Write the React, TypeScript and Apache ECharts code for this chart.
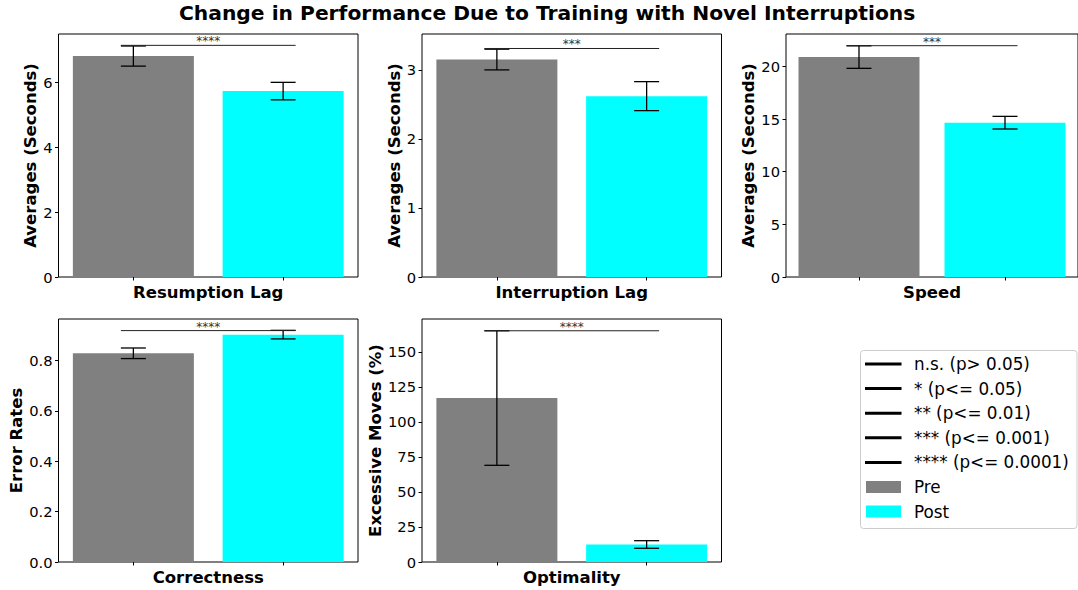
import React, { useEffect, useRef } from "react";
import * as echarts from "echarts";

const TITLE = "Change in Performance Due to Training with Novel Interruptions";
const GROUPS = ["Pre", "Post"];
const GROUP_COLORS = ["#808080", "#00ffff"];

const panelNames = ["Resumption Lag", "Interruption Lag", "Speed", "Correctness", "Optimality"];
const yNames = ["Averages (Seconds)", "Averages (Seconds)", "Averages (Seconds)", "Error Rates", "Excessive Moves (%)"];

const preMeans = [6.81, 3.15, 20.88, 0.828, 117];
const preErrs = [0.31, 0.15, 1.07, 0.021, 48];
const postMeans = [5.73, 2.62, 14.65, 0.902, 12.5];
const postErrs = [0.27, 0.21, 0.6, 0.017, 2.7];

const sigLevels = [7.14, 3.31, 21.96, 0.918, 165];
const sigLabels = ["****", "***", "***", "****", "****"];

const yMax = [7.49, 3.52, 23.07, 0.964, 173.4];
const yTicks = [
  [0, 2, 4, 6],
  [0, 1, 2, 3],
  [0, 5, 10, 15, 20],
  [0, 0.2, 0.4, 0.6, 0.8],
  [0, 25, 50, 75, 100, 125, 150],
];
const yDecimals = [0, 0, 0, 1, 0];

const legendLabels = [
  "n.s. (p> 0.05)",
  "* (p<= 0.05)",
  "** (p<= 0.01)",
  "*** (p<= 0.001)",
  "**** (p<= 0.0001)",
];

// layout
const GRIDS = [
  { left: 58.5, top: 34, width: 299.5, height: 243 },
  { left: 422, top: 34, width: 299.5, height: 243 },
  { left: 786, top: 34, width: 299.5, height: 243 },
  { left: 58.5, top: 319, width: 299.5, height: 243 },
  { left: 422, top: 319, width: 299.5, height: 243 },
];
const Y_NAME_GAPS = [26.5, 26, 37, 41.5, 46];
const FONT = "DejaVu Sans";
const CAP = 12.5;

export default function App() {
  const ref = useRef<HTMLDivElement>(null);

  useEffect(() => {
    if (!ref.current) return;
    const chart = echarts.init(ref.current, null, { renderer: "svg" });

    const grid: any[] = [];
    const xAxis: any[] = [];
    const yAxis: any[] = [];
    const series: any[] = [];

    panelNames.forEach((name, i) => {
      grid.push({ ...GRIDS[i], show: true, borderColor: "#000", borderWidth: 1, backgroundColor: "transparent" });
      xAxis.push({
        type: "category",
        gridIndex: i,
        data: GROUPS,
        boundaryGap: true,
        name,
        nameLocation: "middle",
        nameGap: 15,
        nameTextStyle: { fontFamily: FONT, fontWeight: "bold", fontSize: 16.5, color: "#000", verticalAlign: "middle" },
        axisLine: { show: false },
        axisTick: { show: true, alignWithLabel: true, length: 3.5, lineStyle: { color: "#000" } },
        axisLabel: { show: false },
        splitLine: { show: false },
      });
      const dec = yDecimals[i];
      yAxis.push({
        type: "value",
        gridIndex: i,
        min: 0,
        max: yMax[i],
        name: yNames[i],
        nameLocation: "middle",
        nameRotate: 90,
        nameGap: Y_NAME_GAPS[i],
        nameTextStyle: { fontFamily: FONT, fontWeight: "bold", fontSize: 16.5, color: "#000", verticalAlign: "middle" },
        axisLine: { show: false },
        axisTick: { show: true, length: 3.5, lineStyle: { color: "#000" }, customValues: yTicks[i] },
        axisLabel: {
          show: true,
          margin: 6,
          fontFamily: FONT,
          fontSize: 14.7,
          color: "#000",
          customValues: yTicks[i],
          formatter: (v: number) => v.toFixed(dec),
        },
        splitLine: { show: false },
      });

      series.push({
        type: "bar",
        xAxisIndex: i,
        yAxisIndex: i,
        barWidth: 121,
        data: [
          { value: preMeans[i], itemStyle: { color: GROUP_COLORS[0] } },
          { value: postMeans[i], itemStyle: { color: GROUP_COLORS[1] } },
        ],
        z: 2,
      });

      series.push({
        type: "custom",
        xAxisIndex: i,
        yAxisIndex: i,
        data: [
          [0, preMeans[i], preErrs[i]],
          [1, postMeans[i], postErrs[i]],
        ],
        encode: { x: 0, y: 1 },
        z: 5,
        renderItem: (params: any, api: any) => {
          const x = api.value(0);
          const v = api.value(1);
          const e = api.value(2);
          const top = api.coord([x, v + e]);
          const bot = api.coord([x, v - e]);
          const cx = top[0];
          const st = { stroke: "#000", lineWidth: 1.3 };
          return {
            type: "group",
            children: [
              { type: "line", shape: { x1: cx, y1: top[1], x2: cx, y2: bot[1] }, style: st },
              { type: "line", shape: { x1: cx - CAP, y1: top[1], x2: cx + CAP, y2: top[1] }, style: st },
              { type: "line", shape: { x1: cx - CAP, y1: bot[1], x2: cx + CAP, y2: bot[1] }, style: st },
            ],
          };
        },
      });

      series.push({
        type: "custom",
        xAxisIndex: i,
        yAxisIndex: i,
        data: [[0, sigLevels[i]]],
        encode: { x: 0, y: 1 },
        z: 6,
        renderItem: (params: any, api: any) => {
          const y = api.value(1);
          const a = api.coord([0, y]);
          const b = api.coord([1, y]);
          const label = sigLabels[i];
          return {
            type: "group",
            children: [
              { type: "line", shape: { x1: a[0] - CAP, y1: a[1], x2: b[0] + CAP, y2: b[1] }, style: { stroke: "#222", lineWidth: 1 } },
              {
                type: "text",
                x: (a[0] + b[0]) / 2,
                y: a[1] + 2,
                style: {
                  text: label,
                  fontFamily: FONT,
                  fontSize: 12,
                  fill: "#333",
                  stroke: "none",
                  lineWidth: 0,
                  align: "center",
                  verticalAlign: "bottom",
                },
              },
            ],
          };
        },
      });
    });

    // legend graphic
    const lx = 860.5, ly = 350.5, lw = 216.5, lh = 178;
    const rowY0 = 364, rowStep = 24.6;
    const legendChildren: any[] = [
      { type: "rect", shape: { x: lx, y: ly, width: lw, height: lh, r: 3 }, style: { fill: "rgba(255,255,255,0.8)", stroke: "#cccccc", lineWidth: 1 } },
    ];
    legendLabels.forEach((t, k) => {
      const y = rowY0 + k * rowStep;
      legendChildren.push({ type: "line", shape: { x1: 865, y1: y, x2: 901.5, y2: y }, style: { stroke: "#000", lineWidth: 3 } });
      legendChildren.push({ type: "text", x: 914, y, style: { text: t, font: `16.8px '${FONT}'`, fill: "#000", align: "left", verticalAlign: "middle" } });
    });
    GROUPS.forEach((g, k) => {
      const y = rowY0 + (legendLabels.length + k) * rowStep;
      legendChildren.push({ type: "rect", shape: { x: 866, y: y - 6, width: 35, height: 12 }, style: { fill: GROUP_COLORS[k] } });
      legendChildren.push({ type: "text", x: 914, y, style: { text: g, font: `16.8px '${FONT}'`, fill: "#000", align: "left", verticalAlign: "middle" } });
    });

    chart.setOption({
      animation: false,
      backgroundColor: "#fff",
      title: {
        text: TITLE,
        left: 179,
        top: 3,
        padding: 0,
        textStyle: { fontFamily: FONT, fontWeight: "bold", fontSize: 20.25, color: "#000" },
      },
      grid,
      xAxis,
      yAxis,
      series,
      graphic: [{ type: "group", children: legendChildren }],
    });

    return () => chart.dispose();
  }, []);

  return <div ref={ref} style={{ position: "absolute", left: 0, top: 0, width: 1078, height: 590 }} />;
}
